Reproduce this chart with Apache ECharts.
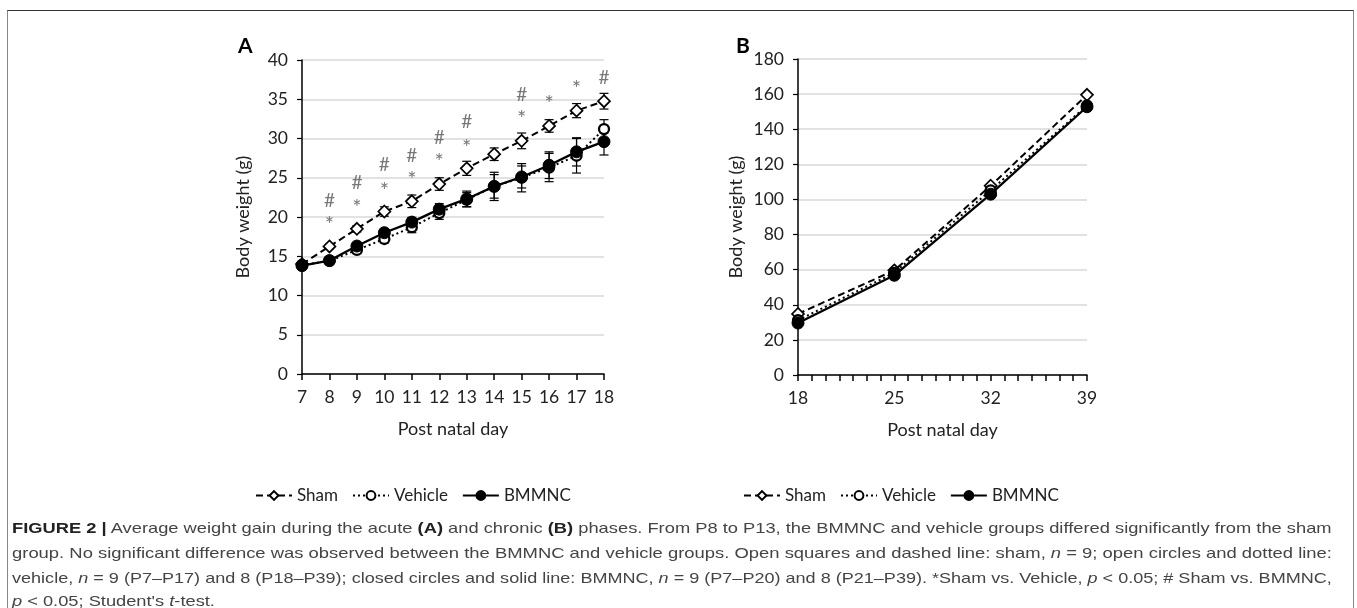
<!DOCTYPE html>
<html>
<head>
<meta charset="utf-8">
<script src="https://cdn.jsdelivr.net/npm/echarts@6/dist/echarts.min.js"></script>
<style>
  html, body { margin:0; padding:0; background:#fff; }
  #wrap { position:relative; width:1357px; height:608px; overflow:hidden; }
  #frame { position:absolute; left:7px; top:10px; width:1347px; height:620px; border-top:1.5px solid #333; border-left:1.5px solid #888; border-right:1.5px solid #888; box-sizing:border-box; }
  #chart { position:absolute; left:0; top:0; width:1357px; height:608px; }
  .cap { position:absolute; left:12px; white-space:nowrap; font-family:"Liberation Sans", Arial, sans-serif; font-size:15px; color:#444; line-height:20px; transform-origin:0 50%; }
  .cap b { color:#222; }
</style>
</head>
<body>
<div id="wrap">
  <div id="chart"></div>
  <div id="frame"></div>
  <div class="cap" id="l1" style="top:518px"><b>FIGURE 2 |</b> Average weight gain during the acute <b>(A)</b> and chronic <b>(B)</b> phases. From P8 to P13, the BMMNC and vehicle groups differed significantly from the sham</div>
  <div class="cap" id="l2" style="top:543px">group. No significant difference was observed between the BMMNC and vehicle groups. Open squares and dashed line: sham, <i>n</i> = 9; open circles and dotted line:</div>
  <div class="cap" id="l3" style="top:568px">vehicle, <i>n</i> = 9 (P7–P17) and 8 (P18–P39); closed circles and solid line: BMMNC, <i>n</i> = 9 (P7–P20) and 8 (P21–P39). *Sham vs. Vehicle, <i>p</i> &lt; 0.05; # Sham vs. BMMNC,</div>
  <div class="cap" id="l4" style="top:591px"><i>p</i> &lt; 0.05; Student's <i>t</i>-test.</div>
</div>
<script>
// ---- Panel A (acute) ----
const daysA = [7, 8, 9, 10, 11, 12, 13, 14, 15, 16, 17, 18];
const shamA = [14.0, 16.25, 18.5, 20.7, 22.0, 24.2, 26.2, 28.0, 29.7, 31.6, 33.55, 34.75];
const vehicleA = [13.9, 14.4, 15.8, 17.2, 18.7, 20.5, 22.2, 23.9, 25.0, 26.3, 27.8, 31.2];
const bmmncA = [13.8, 14.45, 16.3, 18.0, 19.35, 21.0, 22.3, 23.9, 25.1, 26.6, 28.3, 29.6];
const shamErrA = [0.3, 0.3, 0.4, 0.6, 0.8, 0.8, 0.9, 0.8, 1.0, 0.8, 0.9, 1.0];
const vehicleErrA = [0.3, 0.3, 0.4, 0.5, 0.7, 0.8, 0.9, 1.5, 1.8, 1.8, 2.2, 1.2];
const bmmncErrA = [0.3, 0.3, 0.4, 0.5, 0.6, 0.7, 1.0, 1.8, 1.4, 1.7, 1.8, 1.7];
const starDays = [8, 9, 10, 11, 12, 13, 15, 16, 17];
const starY = [19.6, 21.85, 24.0, 25.3, 27.6, 29.5, 33.1, 35.0, 36.9];
const hashDays = [8, 9, 10, 11, 12, 13, 15, 18];
const hashY = [22.05, 24.3, 26.6, 27.8, 30.1, 32.1, 35.6, 37.7];
const yTicksA = [0, 40, 5];   // min, max, interval
// ---- Panel B (chronic) ----
const daysB = [18, 25, 32, 39];
const shamB = [34.8, 59.6, 107.8, 159.6];
const vehicleB = [31.2, 58.2, 105.2, 153.5];
const bmmncB = [29.6, 56.8, 103.0, 152.8];
const yTicksB = [0, 180, 20];
const groups = ['Sham', 'Vehicle', 'BMMNC'];

const FONT = 'Lato';
const zip = (xs, ys) => xs.map((x, i) => [x, ys[i]]);
const zip3 = (xs, ys, es) => xs.map((x, i) => [x, ys[i], es[i]]);

const styles = {
  Sham:    { symbol: 'diamond', symbolSize: 12, itemStyle: { color: '#fff', borderColor: '#000', borderWidth: 1.7 }, lineStyle: { color: '#000', width: 2, type: [7, 4] } },
  Vehicle: { symbol: 'circle', symbolSize: 10, itemStyle: { color: '#fff', borderColor: '#000', borderWidth: 2.3 }, lineStyle: { color: '#000', width: 2, type: [2, 3] } },
  BMMNC:   { symbol: 'circle', symbolSize: 12, itemStyle: { color: '#000', borderColor: '#000', borderWidth: 1 }, lineStyle: { color: '#000', width: 2.3, type: 'solid' } }
};

function lineSeries(name, data, idx, z) {
  const s = styles[name];
  return {
    type: 'line', name, xAxisIndex: idx, yAxisIndex: idx, data,
    symbol: s.symbol, symbolSize: s.symbolSize, showSymbol: true,
    itemStyle: s.itemStyle, lineStyle: s.lineStyle, z, animation: false
  };
}
function errSeries(data, idx, z) {
  return {
    type: 'custom', xAxisIndex: idx, yAxisIndex: idx, data, z, animation: false,
    encode: { x: 0, y: 1 },
    renderItem: function (params, api) {
      const x = api.value(0), y = api.value(1), e = api.value(2);
      const top = api.coord([x, y + e]);
      const bot = api.coord([x, y - e]);
      const w = 4.5;
      const st = { stroke: '#000', lineWidth: 1.2 };
      return {
        type: 'group', children: [
          { type: 'line', shape: { x1: top[0], y1: top[1], x2: bot[0], y2: bot[1] }, style: st },
          { type: 'line', shape: { x1: top[0] - w, y1: top[1], x2: top[0] + w, y2: top[1] }, style: st },
          { type: 'line', shape: { x1: bot[0] - w, y1: bot[1], x2: bot[0] + w, y2: bot[1] }, style: st }
        ]
      };
    }
  };
}
function markSeries(data, text, size, dy) {
  return {
    type: 'scatter', xAxisIndex: 0, yAxisIndex: 0, data, symbolSize: 1,
    itemStyle: { color: 'rgba(0,0,0,0)' }, animation: false, silent: true, z: 5,
    label: { show: true, position: 'inside', formatter: text, color: '#555', fontSize: size, fontFamily: FONT, offset: [0, dy] }
  };
}

const axisLabel = { color: '#222', fontSize: 17.5, fontFamily: FONT };
const axisLine = { show: true, lineStyle: { color: '#000', width: 1.5 } };
const splitLine = { show: true, lineStyle: { color: '#d9d9d9', width: 1.5 } };
const nameStyle = { color: '#222', fontSize: 18, fontFamily: FONT };

const option = {
  backgroundColor: '#fff',
  animation: false,
  textStyle: { fontFamily: FONT },
  grid: [
    { left: 302, top: 60, width: 302, height: 314, containLabel: false },
    { left: 798, top: 59, width: 289, height: 316, containLabel: false }
  ],
  xAxis: [
    { type: 'value', gridIndex: 0, min: daysA[0], max: daysA[daysA.length - 1], interval: 1,
      axisLine, axisTick: { show: true, length: 6, lineStyle: { color: '#000', width: 1.5 } },
      axisLabel: Object.assign({ margin: 14 }, axisLabel), splitLine: { show: false },
      name: 'Post natal day', nameLocation: 'middle', nameGap: 46, nameTextStyle: nameStyle },
    { type: 'value', gridIndex: 1, min: daysB[0], max: daysB[daysB.length - 1], interval: 7,
      axisLine, axisTick: { show: true, length: 6, lineStyle: { color: '#000', width: 1.5 } },
      minorTick: { show: true, splitNumber: 7, length: 6, lineStyle: { color: '#000', width: 1.5 } },
      axisLabel: Object.assign({ margin: 14 }, axisLabel), splitLine: { show: false },
      name: 'Post natal day', nameLocation: 'middle', nameGap: 46, nameTextStyle: nameStyle }
  ],
  yAxis: [
    { type: 'value', gridIndex: 0, min: yTicksA[0], max: yTicksA[1], interval: yTicksA[2],
      axisLine, axisTick: { show: true, length: 5, lineStyle: { color: '#000', width: 1.2 } },
      axisLabel: Object.assign({ margin: 14 }, axisLabel), splitLine,
      name: 'Body weight (g)', nameLocation: 'middle', nameGap: 50, nameTextStyle: nameStyle },
    { type: 'value', gridIndex: 1, min: yTicksB[0], max: yTicksB[1], interval: yTicksB[2],
      axisLine, axisTick: { show: true, length: 5, lineStyle: { color: '#000', width: 1.2 } },
      axisLabel: Object.assign({ margin: 14 }, axisLabel), splitLine,
      name: 'Body weight (g)', nameLocation: 'middle', nameGap: 53, nameTextStyle: nameStyle }
  ],
  legend: [
    { data: groups, left: 250, top: 482, itemWidth: 36, itemHeight: 11, itemGap: 14,
      textStyle: { color: '#222', fontSize: 17, fontFamily: FONT }, selectedMode: false },
    { data: groups, left: 738, top: 482, itemWidth: 36, itemHeight: 11, itemGap: 14,
      textStyle: { color: '#222', fontSize: 17, fontFamily: FONT }, selectedMode: false }
  ],
  graphic: [
    { type: 'text', left: 238, top: 36, style: { text: 'A', font: 'bold 21px Lato', fill: '#000' } },
    { type: 'text', left: 736, top: 36, style: { text: 'B', font: 'bold 21px Lato', fill: '#000' } }
  ],
  series: [
    errSeries(zip3(daysA, shamA, shamErrA), 0, 2),
    errSeries(zip3(daysA, vehicleA, vehicleErrA), 0, 2),
    errSeries(zip3(daysA, bmmncA, bmmncErrA), 0, 2),
    lineSeries('Sham', zip(daysA, shamA), 0, 3),
    lineSeries('Vehicle', zip(daysA, vehicleA), 0, 3),
    lineSeries('BMMNC', zip(daysA, bmmncA), 0, 4),
    markSeries(zip(starDays, starY), '*', 22, 5),
    markSeries(zip(hashDays, hashY), '#', 19, 0),
    lineSeries('Sham', zip(daysB, shamB), 1, 3),
    lineSeries('Vehicle', zip(daysB, vehicleB), 1, 3),
    lineSeries('BMMNC', zip(daysB, bmmncB), 1, 4)
  ]
};

const chart = echarts.init(document.getElementById('chart'), null, { renderer: 'canvas' });
chart.setOption(option);

// fit caption lines to the justified width
(function () {
  const target = 1320;
  const ids = ['l1', 'l2', 'l3'];
  let scales = [];
  ids.forEach(id => {
    const el = document.getElementById(id);
    const w = el.scrollWidth;
    const s = target / w;
    scales.push(s);
    el.style.transform = 'scaleX(' + s + ')';
  });
  const avg = scales.reduce((a, b) => a + b, 0) / scales.length;
  document.getElementById('l4').style.transform = 'scaleX(' + avg + ')';
})();
</script>
</body>
</html>
